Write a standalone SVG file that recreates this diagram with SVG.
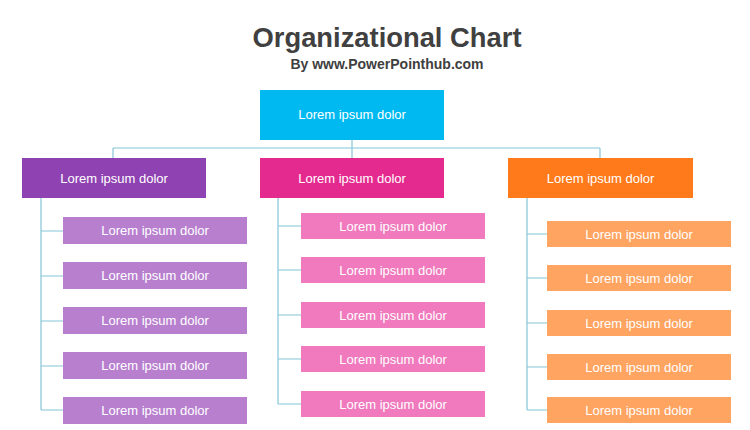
<svg xmlns="http://www.w3.org/2000/svg" width="750" height="430" viewBox="0 0 750 430">
<style>
.t{font-family:"Liberation Sans",Arial,sans-serif;fill:#fff;font-size:13px;text-anchor:middle}
.c{stroke:#86C6D8;stroke-width:1.2;fill:none}
.title{font-family:"Liberation Sans",Arial,sans-serif;font-weight:bold;fill:#404040;text-anchor:middle}
</style>
<rect width="750" height="430" fill="#fff"/>
<text class="title" x="387" y="47" font-size="27" textLength="269" lengthAdjust="spacingAndGlyphs">Organizational Chart</text>
<text class="title" x="387" y="69" font-size="14">By www.PowerPointhub.com</text>
<g id="connectors">
<path class="c" d="M352 140V158M113 148H600M113 148V158M600 148V158"/>
<path class="c" d="M41 198V410M41 231H63M41 276H63M41 321H63M41 366H63M41 410H63"/>
<path class="c" d="M278 198V404M278 226H301M278 270H301M278 315H301M278 359H301M278 404H301"/>
<path class="c" d="M527 198V410M527 234H547M527 278H547M527 323H547M527 367H547M527 410H547"/>
</g>
<g id="top"><rect x="260" y="90" width="184" height="50" fill="#00B9F1"/><text class="t" x="352" y="119">Lorem ipsum dolor</text></g>
<g id="purple"><rect x="22" y="158" width="184" height="40" fill="#8F42B2"/><text class="t" x="114" y="182.5">Lorem ipsum dolor</text></g>
<g id="pink"><rect x="260" y="158" width="184" height="40" fill="#E52A8F"/><text class="t" x="352" y="182.5">Lorem ipsum dolor</text></g>
<g id="orange"><rect x="508" y="158" width="185" height="40" fill="#FF7A1A"/><text class="t" x="600.5" y="182.5">Lorem ipsum dolor</text></g>
<g id="purple1"><rect x="63" y="217" width="184" height="27" fill="#B87FCF"/><text class="t" x="155" y="235">Lorem ipsum dolor</text></g>
<g id="purple2"><rect x="63" y="262" width="184" height="27" fill="#B87FCF"/><text class="t" x="155" y="280">Lorem ipsum dolor</text></g>
<g id="purple3"><rect x="63" y="307" width="184" height="27" fill="#B87FCF"/><text class="t" x="155" y="325">Lorem ipsum dolor</text></g>
<g id="purple4"><rect x="63" y="352" width="184" height="27" fill="#B87FCF"/><text class="t" x="155" y="370">Lorem ipsum dolor</text></g>
<g id="purple5"><rect x="63" y="397" width="184" height="27" fill="#B87FCF"/><text class="t" x="155" y="415">Lorem ipsum dolor</text></g>
<g id="pink1"><rect x="301" y="213" width="184" height="26" fill="#F07ABD"/><text class="t" x="393" y="230.5">Lorem ipsum dolor</text></g>
<g id="pink2"><rect x="301" y="257" width="184" height="26" fill="#F07ABD"/><text class="t" x="393" y="274.5">Lorem ipsum dolor</text></g>
<g id="pink3"><rect x="301" y="302" width="184" height="26" fill="#F07ABD"/><text class="t" x="393" y="319.5">Lorem ipsum dolor</text></g>
<g id="pink4"><rect x="301" y="346" width="184" height="26" fill="#F07ABD"/><text class="t" x="393" y="363.5">Lorem ipsum dolor</text></g>
<g id="pink5"><rect x="301" y="391" width="184" height="26" fill="#F07ABD"/><text class="t" x="393" y="408.5">Lorem ipsum dolor</text></g>
<g id="orange1"><rect x="547" y="221" width="184" height="26" fill="#FFA461"/><text class="t" x="639" y="238.5">Lorem ipsum dolor</text></g>
<g id="orange2"><rect x="547" y="265" width="184" height="26" fill="#FFA461"/><text class="t" x="639" y="282.5">Lorem ipsum dolor</text></g>
<g id="orange3"><rect x="547" y="310" width="184" height="26" fill="#FFA461"/><text class="t" x="639" y="327.5">Lorem ipsum dolor</text></g>
<g id="orange4"><rect x="547" y="354" width="184" height="26" fill="#FFA461"/><text class="t" x="639" y="371.5">Lorem ipsum dolor</text></g>
<g id="orange5"><rect x="547" y="397" width="184" height="26" fill="#FFA461"/><text class="t" x="639" y="414.5">Lorem ipsum dolor</text></g>
</svg>
